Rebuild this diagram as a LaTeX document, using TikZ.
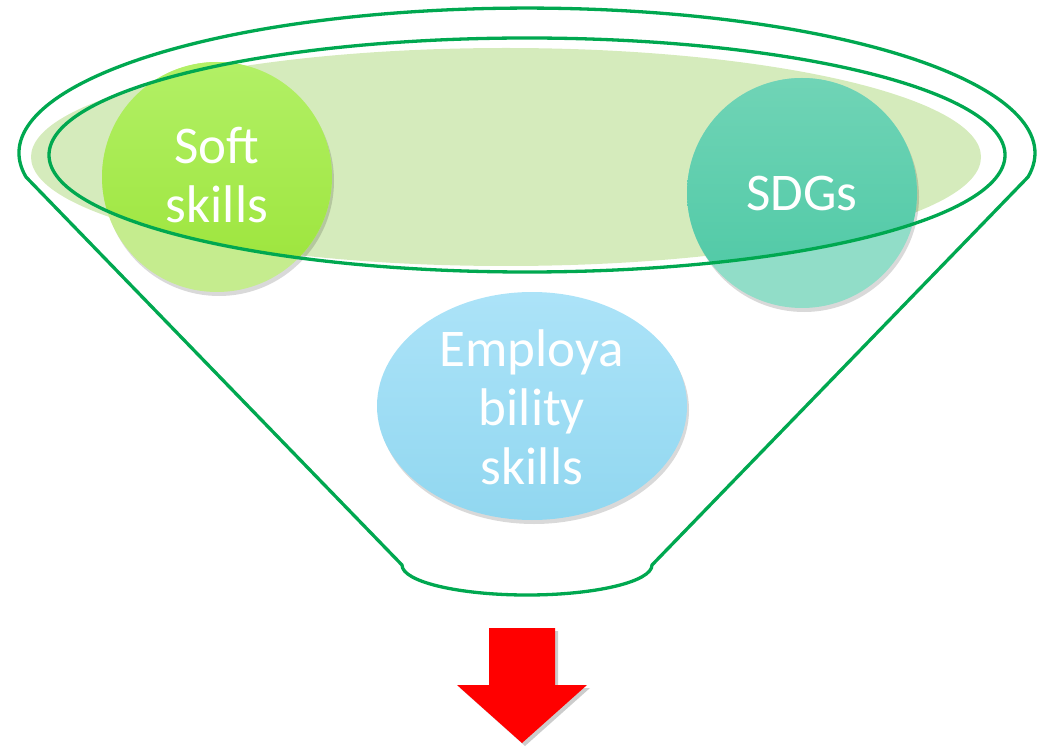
\documentclass[tikz,border=0pt]{standalone}
\usepackage{fontspec}
\setmainfont{Carlito}
\usetikzlibrary{shadows}
\definecolor{funnelgreen}{RGB}{0,168,80}
\definecolor{bowlfill}{RGB}{213,235,188}
\definecolor{softlight}{RGB}{197,236,142}
\definecolor{softtop}{RGB}{178,240,102}
\definecolor{softbot}{RGB}{155,228,56}
\definecolor{sdglight}{RGB}{145,221,200}
\definecolor{sdgtop}{RGB}{112,212,182}
\definecolor{sdgbot}{RGB}{76,200,164}
\definecolor{emptop}{RGB}{172,227,248}
\definecolor{empbot}{RGB}{145,215,240}
\tikzset{
  funnelline/.style={draw=funnelgreen, line width=3.3pt, line join=round},
  softshadow/.style={drop shadow={shadow xshift=2pt, shadow yshift=-4pt, opacity=0.15, fill=black}},
  label/.style={text=white, align=center, font=\fontsize{53}{59}\selectfont, inner sep=0pt}
}
\begin{document}
\begin{tikzpicture}[x=1pt,y=1pt]
\useasboundingbox (0,0) rectangle (1048,748);
% light green bowl fill
\fill[bowlfill] (506,591) ellipse [x radius=475, y radius=109];
% circles, light (lower) parts
\node[circle, minimum size=230pt, inner sep=0pt, fill=softlight, softshadow] (soft) at (217,571) {};
\node[circle, minimum size=230pt, inner sep=0pt, fill=sdglight, softshadow] (sdg) at (802,555) {};
% saturated upper parts, clipped above the rim's lower edge
\begin{scope}
  \clip (0,593) -- (49,593) arc[start angle=180, end angle=360, x radius=478, y radius=117] -- (1048,593) -- (1048,748) -- (0,748) -- cycle;
  \shade[top color=softtop, bottom color=softbot] (soft.center) circle (115);
  \shade[top color=sdgtop, bottom color=sdgbot] (sdg.center) circle (115);
\end{scope}
% employability ellipse
\shade[top color=emptop, bottom color=empbot, softshadow] (532,342) ellipse [x radius=155, y radius=114];
\coordinate (emp) at (532,342);
% inner rim
\draw[funnelline] (527,593) ellipse [x radius=478, y radius=117];
% funnel outline
\draw[funnelline] (26,571) arc[start angle=189.5, end angle=-9.5, x radius=508, y radius=145]
  -- (652,183) arc[start angle=0, end angle=-180, x radius=125, y radius=30] -- cycle;
% texts
\node[label] (softtext) at (217,573) {Soft\\skills};
\node[label] (sdgtext) at (802,555) {SDGs};
\node[label] (emptext) at (532,341) {Employa\\bility\\skills};
% red arrow
\fill[red, drop shadow={shadow xshift=3pt, shadow yshift=-3pt, opacity=0.2, fill=black}]
  (489,120) -- (555,120) -- (555,63) -- (587,63) -- (522,5) -- (457,63) -- (489,63) -- cycle;
\end{tikzpicture}
\end{document}
